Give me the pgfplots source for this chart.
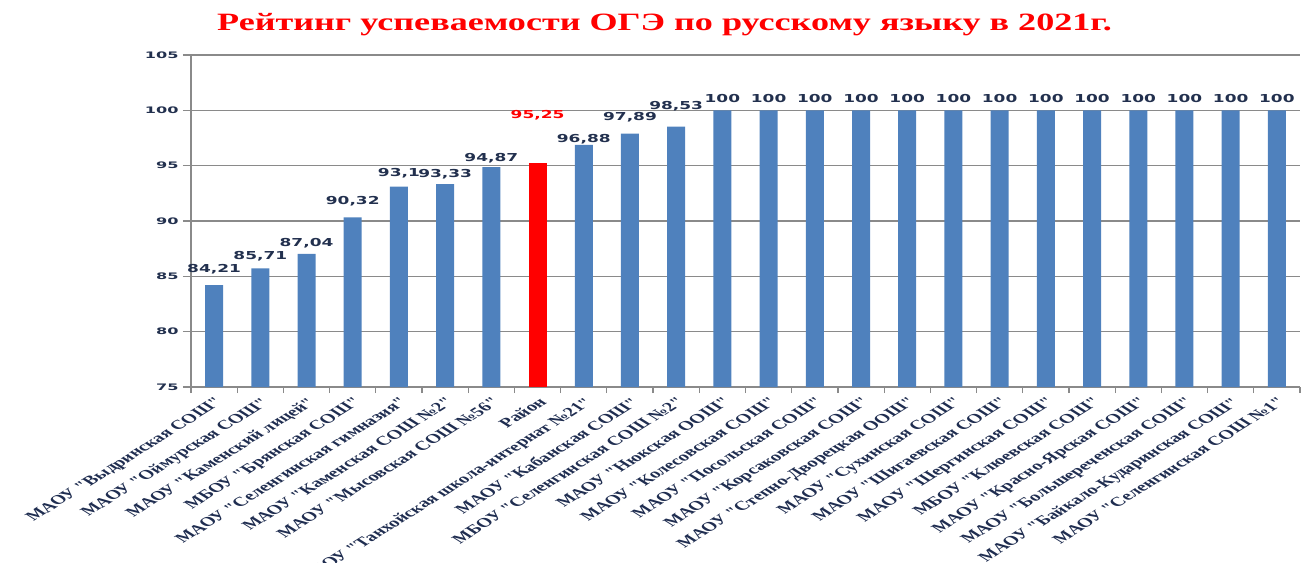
\documentclass[border=0pt]{standalone}
\usepackage{fontspec}
\usepackage{pgfplots}
\usepackage{pgfplotstable}
\pgfplotsset{compat=1.18}
\setmainfont{Liberation Serif}
\newfontfamily\titlefont[FakeStretch=1.45]{Liberation Serif}
\newfontfamily\numfont[FakeStretch=1.55]{DejaVu Sans}
\newfontfamily\tickfont[FakeStretch=1.8]{DejaVu Sans}
\newfontfamily\catfont{Liberation Serif}
\definecolor{barblue}{HTML}{4F81BD}
\definecolor{barred}{HTML}{FF0000}
\definecolor{gridgray}{HTML}{8A8A8A}
\definecolor{labnavy}{HTML}{1F2D50}
\definecolor{numdark}{HTML}{22304E}

\pgfplotstableread{
x y dy
0 84.21 8
1 85.71 4
2 87.04 2
3 90.32 8
4 93.1 5
5 93.33 2
6 94.87 1
8 96.88 -3
9 97.89 8
10 98.53 12
11 100 4
12 100 4
13 100 4
14 100 4
15 100 4
16 100 4
17 100 4
18 100 4
19 100 4
20 100 4
21 100 4
22 100 4
23 100 4
}\bluedata

\pgfplotstableread{
x y dy
7 95.25 39
}\reddata

\begin{document}
\begin{tikzpicture}
\useasboundingbox (0,0) rectangle (1306bp,563bp);
\begin{axis}[
  at={(191bp,176bp)}, anchor=south west,
  scale only axis, width=1109bp, height=332bp,
  ybar, bar width=18bp,
  xmin=-0.5, xmax=23.5, ymin=75, ymax=105,
  ytick={75,80,...,105},
  xtick={0,...,23},
  minor xtick={-0.5,0.5,...,23.5},
  tick align=outside,
  major tick length=8bp, minor tick length=6bp,
  every major x tick/.append style={draw=none},
  every minor x tick/.append style={draw=gridgray, line width=1.2bp},
  every major y tick/.append style={draw=gridgray, line width=1.5bp},
  axis x line*=bottom, axis y line*=left,
  axis line style={draw=gridgray, line width=1.5bp, -},
  ymajorgrids, major grid style={draw=gridgray, line width=1.5bp},
  /pgf/number format/.cd, use comma, assume math mode=true, 1000 sep={},
  /pgfplots/.cd,
  yticklabel style={font=\tickfont\bfseries\fontsize{9}{9}\selectfont, text=numdark, xshift=-1bp},
  xticklabels={
    {МАОУ "Выдринская СОШ"},
    {МАОУ "Оймурская СОШ"},
    {МАОУ "Каменский лицей"},
    {МБОУ "Брянская СОШ"},
    {МАОУ "Селенгинская гимназия"},
    {МАОУ "Каменская СОШ №2"},
    {МАОУ "Мысовская СОШ №56"},
    {Район},
    {МБОУ "Танхойская школа-интернат №21"},
    {МАОУ "Кабанская СОШ"},
    {МБОУ "Селенгинская СОШ №2"},
    {МАОУ "Нюкская ООШ"},
    {МАОУ "Колесовская СОШ"},
    {МАОУ "Посольская СОШ"},
    {МАОУ "Корсаковская СОШ"},
    {МАОУ "Степно-Дворецкая ООШ"},
    {МАОУ "Сухинская СОШ"},
    {МАОУ "Шигаевская СОШ"},
    {МАОУ "Шергинская СОШ"},
    {МБОУ "Клюевская СОШ"},
    {МАОУ "Красно-Ярская СОШ"},
    {МАОУ "Большереченская СОШ"},
    {МАОУ "Байкало-Кударинская СОШ"},
    {МАОУ "Селенгинская СОШ №1"}},
  xticklabel style={font=\catfont\bfseries\fontsize{13}{13}\selectfont, text=labnavy,
    anchor=north east, cm={1.13,0.707,-1.13,0.707,(0,0)}, inner sep=1bp},
  title={Рейтинг успеваемости ОГЭ по русскому языку в 2021г.},
  title style={at={(0.427,1.075)}, anchor=center,
    font=\titlefont\bfseries\fontsize{25}{25}\selectfont, text=barred},
]
\addplot[fill=barblue, draw=none, bar shift=0pt,
  nodes near coords,
  visualization depends on={\thisrow{dy} \as \labeldy},
  every node near coord/.append style={font=\numfont\bfseries\fontsize{11}{11}\selectfont, text=numdark, yshift=\labeldy}]
  table[x=x, y=y] {\bluedata};
\addplot[fill=barred, draw=none, bar shift=0pt,
  nodes near coords,
  visualization depends on={\thisrow{dy} \as \labeldy},
  every node near coord/.append style={font=\numfont\bfseries\fontsize{11}{11}\selectfont, text=barred, yshift=\labeldy}]
  table[x=x, y=y] {\reddata};
\end{axis}
\end{tikzpicture}
\end{document}
